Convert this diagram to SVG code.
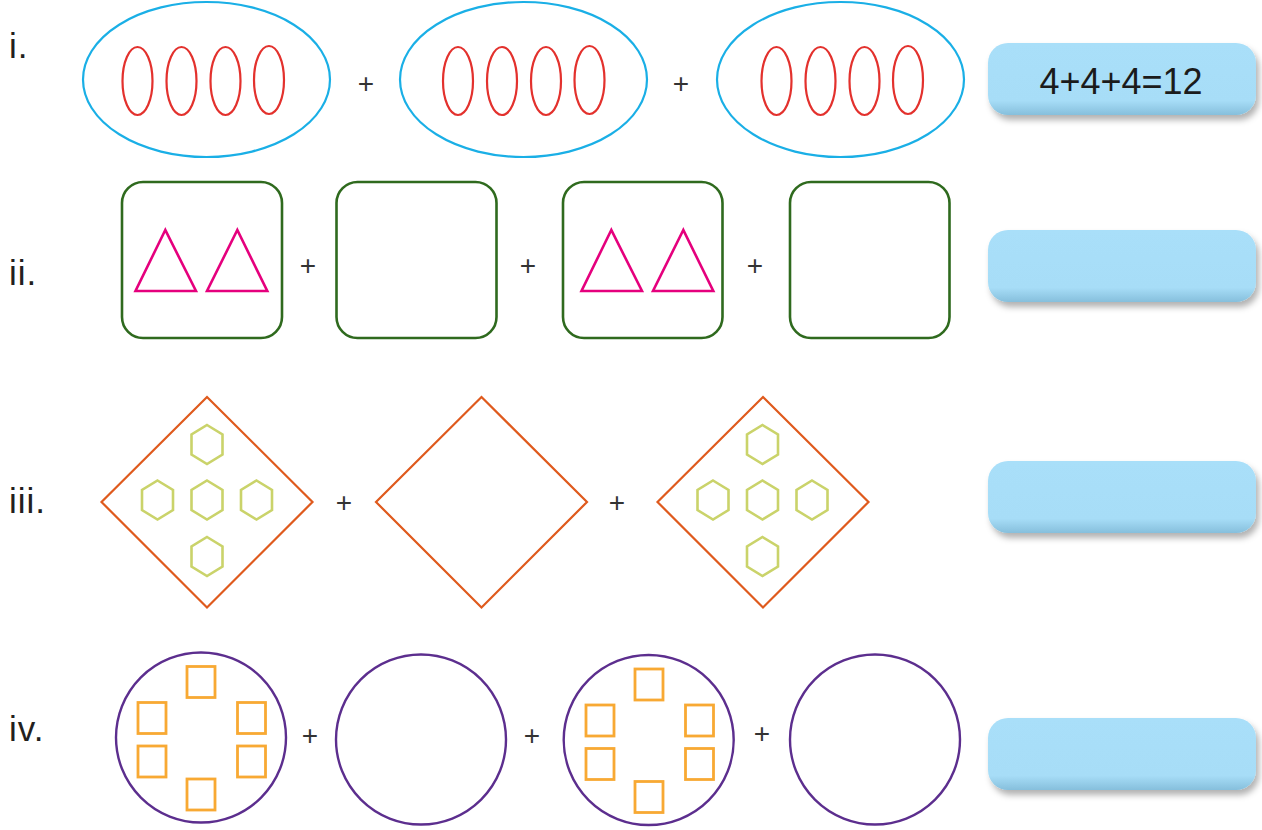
<svg xmlns="http://www.w3.org/2000/svg" width="1262" height="830" viewBox="0 0 1262 830">
<style>
.lbl{font-family:"Liberation Sans",Arial,sans-serif;font-size:35px;fill:#231f20;letter-spacing:1px}
.plus{font-family:"Liberation Sans",Arial,sans-serif;font-size:28px;fill:#333;text-anchor:middle}
.big{fill:none;stroke:#1AAFE6;stroke-width:2.2}
.red{fill:none;stroke:#E3312D;stroke-width:2.2}
.box{fill:none;stroke:#2F6A1E;stroke-width:2.6}
.tri{fill:none;stroke:#E5007D;stroke-width:2.6}
.dia{fill:none;stroke:#DF5A1D;stroke-width:2.2}
.hex{fill:none;stroke:#CAD36A;stroke-width:2.6}
.circ{fill:none;stroke:#5C2E8E;stroke-width:2.4}
.sq{fill:none;stroke:#F8A933;stroke-width:2.8}
.ans{fill:url(#ansg)}
.anstxt{font-family:"Liberation Sans",Arial,sans-serif;font-size:36px;fill:#1b1b1b;text-anchor:middle}
</style>
<defs>
<filter id="sh" x="-10%" y="-20%" width="125%" height="160%">
<feDropShadow dx="3" dy="5" stdDeviation="3" flood-color="#000" flood-opacity="0.3"/>
</filter>
<linearGradient id="ansg" x1="0" y1="0" x2="0" y2="1">
<stop offset="0" stop-color="#A9DFF9"/>
<stop offset="0.8" stop-color="#A7DDF7"/>
<stop offset="1" stop-color="#86BFDC"/>
</linearGradient>
<g id="reds">
<ellipse class="red" cx="-69" cy="1.5" rx="15" ry="34"/>
<ellipse class="red" cx="-25" cy="1.5" rx="15" ry="34"/>
<ellipse class="red" cx="19" cy="1.5" rx="15" ry="34"/>
<ellipse class="red" cx="62.5" cy="0.5" rx="15" ry="34"/>
</g>
<g id="tris">
<polygon class="tri" points="165.3,230 135.5,291 196,291"/>
<polygon class="tri" points="237.3,230 207,291 267.3,291"/>
</g>
<polygon id="hx" class="hex" points="0,-19.5 15.5,-10 15.5,10 0,19.5 -15.5,10 -15.5,-10"/>
<g id="hexes">
<use href="#hx" x="0" y="-57"/>
<use href="#hx" x="-49.5" y="-1.5"/>
<use href="#hx" x="0" y="-1.5"/>
<use href="#hx" x="49.5" y="-1.5"/>
<use href="#hx" x="0" y="55"/>
</g>
<g id="sqs">
<rect class="sq" x="-14" y="-71" width="28" height="31"/>
<rect class="sq" x="-14" y="41.5" width="28" height="31"/>
<rect class="sq" x="-63" y="-35" width="28" height="31"/>
<rect class="sq" x="-63" y="8.5" width="28" height="31"/>
<rect class="sq" x="36.5" y="-35" width="28" height="31"/>
<rect class="sq" x="36.5" y="8.5" width="28" height="31"/>
</g>
</defs>

<g id="labels">
<text class="lbl" x="9" y="58">i.</text>
<text class="lbl" x="9" y="285">ii.</text>
<text class="lbl" x="9" y="513">iii.</text>
<text class="lbl" x="9" y="741">iv.</text>
</g>

<g id="row1">
<g id="r1a"><ellipse class="big" cx="206.5" cy="79.5" rx="123.5" ry="77.5"/><use href="#reds" x="206.5" y="79.5"/></g>
<g id="r1b"><ellipse class="big" cx="523.5" cy="79.5" rx="123.5" ry="77.5"/><use href="#reds" x="527" y="79.5"/></g>
<g id="r1c"><ellipse class="big" cx="840.5" cy="79.5" rx="123.5" ry="77.5"/><use href="#reds" x="845.5" y="79.5"/></g>
<text class="plus" x="366" y="93">+</text>
<text class="plus" x="681" y="93">+</text>
</g>

<g id="row2">
<g id="r2a"><rect class="box" x="122" y="182" width="160" height="156" rx="21"/><use href="#tris"/></g>
<g id="r2b"><rect class="box" x="336.5" y="182" width="160" height="156" rx="21"/></g>
<g id="r2c"><rect class="box" x="563" y="182" width="159.5" height="156" rx="21"/><use href="#tris" x="446"/></g>
<g id="r2d"><rect class="box" x="790" y="182" width="159.5" height="156" rx="21"/></g>
<text class="plus" x="308" y="275">+</text>
<text class="plus" x="528" y="275">+</text>
<text class="plus" x="755" y="275">+</text>
</g>

<g id="row3">
<g id="r3a"><polygon class="dia" points="207,397 312.5,502 207,607.5 101.5,502"/><use href="#hexes" x="207" y="501.5"/></g>
<g id="r3b"><polygon class="dia" points="481.5,397 587,502 481.5,607.5 376,502"/></g>
<g id="r3c"><polygon class="dia" points="763,397 868.5,502 763,607.5 657.5,502"/><use href="#hexes" x="762.5" y="501.5"/></g>
<text class="plus" x="344" y="512">+</text>
<text class="plus" x="617" y="512">+</text>
</g>

<g id="row4">
<g id="r4a"><circle class="circ" cx="201" cy="737.5" r="85"/><use href="#sqs" x="201" y="737.5"/></g>
<g id="r4b"><circle class="circ" cx="421" cy="739.5" r="85"/></g>
<g id="r4c"><circle class="circ" cx="648.7" cy="740" r="85"/><use href="#sqs" x="649" y="740"/></g>
<g id="r4d"><circle class="circ" cx="875" cy="739.5" r="85"/></g>
<text class="plus" x="310" y="745">+</text>
<text class="plus" x="532" y="745">+</text>
<text class="plus" x="762" y="743">+</text>
</g>

<g id="answers">
<g id="a1"><rect class="ans" filter="url(#sh)" x="988" y="43" width="268" height="72" rx="20"/><text class="anstxt" x="1121" y="94">4+4+4=12</text></g>
<g id="a2"><rect class="ans" filter="url(#sh)" x="988" y="230" width="268" height="72" rx="20"/></g>
<g id="a3"><rect class="ans" filter="url(#sh)" x="988" y="461" width="268" height="72" rx="20"/></g>
<g id="a4"><rect class="ans" filter="url(#sh)" x="988" y="718" width="268" height="72" rx="20"/></g>
</g>
</svg>
